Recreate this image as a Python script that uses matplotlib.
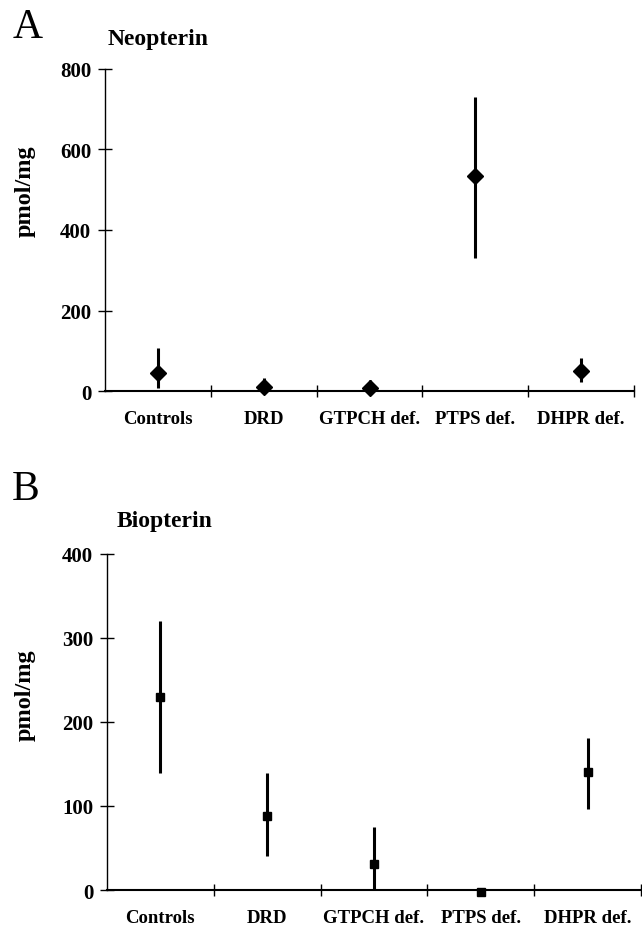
import matplotlib.pyplot as plt
import numpy as np

categories = ['Controls', 'DRD', 'GTPCH def.', 'PTPS def.', 'DHPR def.']

# Neopterin (panel A): mean, lower end, upper end of range
neo_mean = [44, 10, 8, 533, 51]
neo_low = [8, 0, 0, 330, 23]
neo_high = [108, 33, 27, 731, 83]

# Biopterin (panel B)
bio_mean = [230, 88, 31, -2, 141]
bio_low = [139, 41, 0, -2, 96]
bio_high = [320, 139, 75, -2, 181]

plt.rcParams['font.family'] = ['Liberation Serif', 'DejaVu Serif']
plt.rcParams['font.weight'] = 'bold'


def draw_panel(ax, mean, low, high, ymax, ystep, marker, ms):
    x = np.arange(1, len(categories) + 1)
    mean = np.array(mean)
    yerr = [mean - np.array(low), np.array(high) - mean]
    ax.errorbar(x, mean, yerr=yerr, fmt=marker, color='black', ms=ms,
                elinewidth=2.2, capsize=0, clip_on=False, zorder=3)
    ax.set_xlim(0.5, len(categories) + 0.5)
    ax.set_ylim(0, ymax)
    ax.set_yticks(np.arange(0, ymax + 1, ystep))
    ax.set_xticks(x)
    ax.set_xticklabels(categories, fontsize=13.5, fontweight='bold')
    ax.set_xticks(np.arange(1.5, len(categories) + 1, 1.0), minor=True)
    ax.tick_params(axis='x', which='major', length=0, pad=14)
    ax.tick_params(axis='x', which='minor', direction='inout', length=8, width=1)
    ax.tick_params(axis='y', direction='inout', length=10, width=1, pad=5,
                   labelsize=15)
    for lbl in ax.get_yticklabels():
        lbl.set_fontweight('bold')
    for s in ['top', 'right']:
        ax.spines[s].set_visible(False)
    ax.spines['left'].set_linewidth(1.0)
    ax.spines['bottom'].set_linewidth(1.5)


fig = plt.figure(figsize=(6.42, 9.29), dpi=100)

axA = fig.add_axes([0.1636, 0.578, 0.824, 0.3467])
draw_panel(axA, neo_mean, neo_low, neo_high, 800, 200, 'D', 8)

axB = fig.add_axes([0.1667, 0.0409, 0.8317, 0.3617])
draw_panel(axB, bio_mean, bio_low, bio_high, 400, 100, 's', 5.5)

# panel letters, titles and y labels
fig.text(13 / 642, 1 - 28 / 929, 'A', fontsize=30, fontweight='normal',
         ha='left', va='center')
fig.text(12 / 642, 1 - 490 / 929, 'B', fontsize=30, fontweight='normal',
         ha='left', va='center')
fig.text(108 / 642, 1 - 40 / 929, 'Neopterin', fontsize=17,
         fontweight='bold', ha='left', va='center')
fig.text(117 / 642, 1 - 522 / 929, 'Biopterin', fontsize=17,
         fontweight='bold', ha='left', va='center')
fig.text(25 / 642, 1 - 191 / 929, 'pmol/mg', fontsize=17.5, fontweight='bold',
         rotation=90, ha='center', va='center')
fig.text(25 / 642, 1 - 695 / 929, 'pmol/mg', fontsize=17.5, fontweight='bold',
         rotation=90, ha='center', va='center')

fig.savefig('out.png', dpi=100)
